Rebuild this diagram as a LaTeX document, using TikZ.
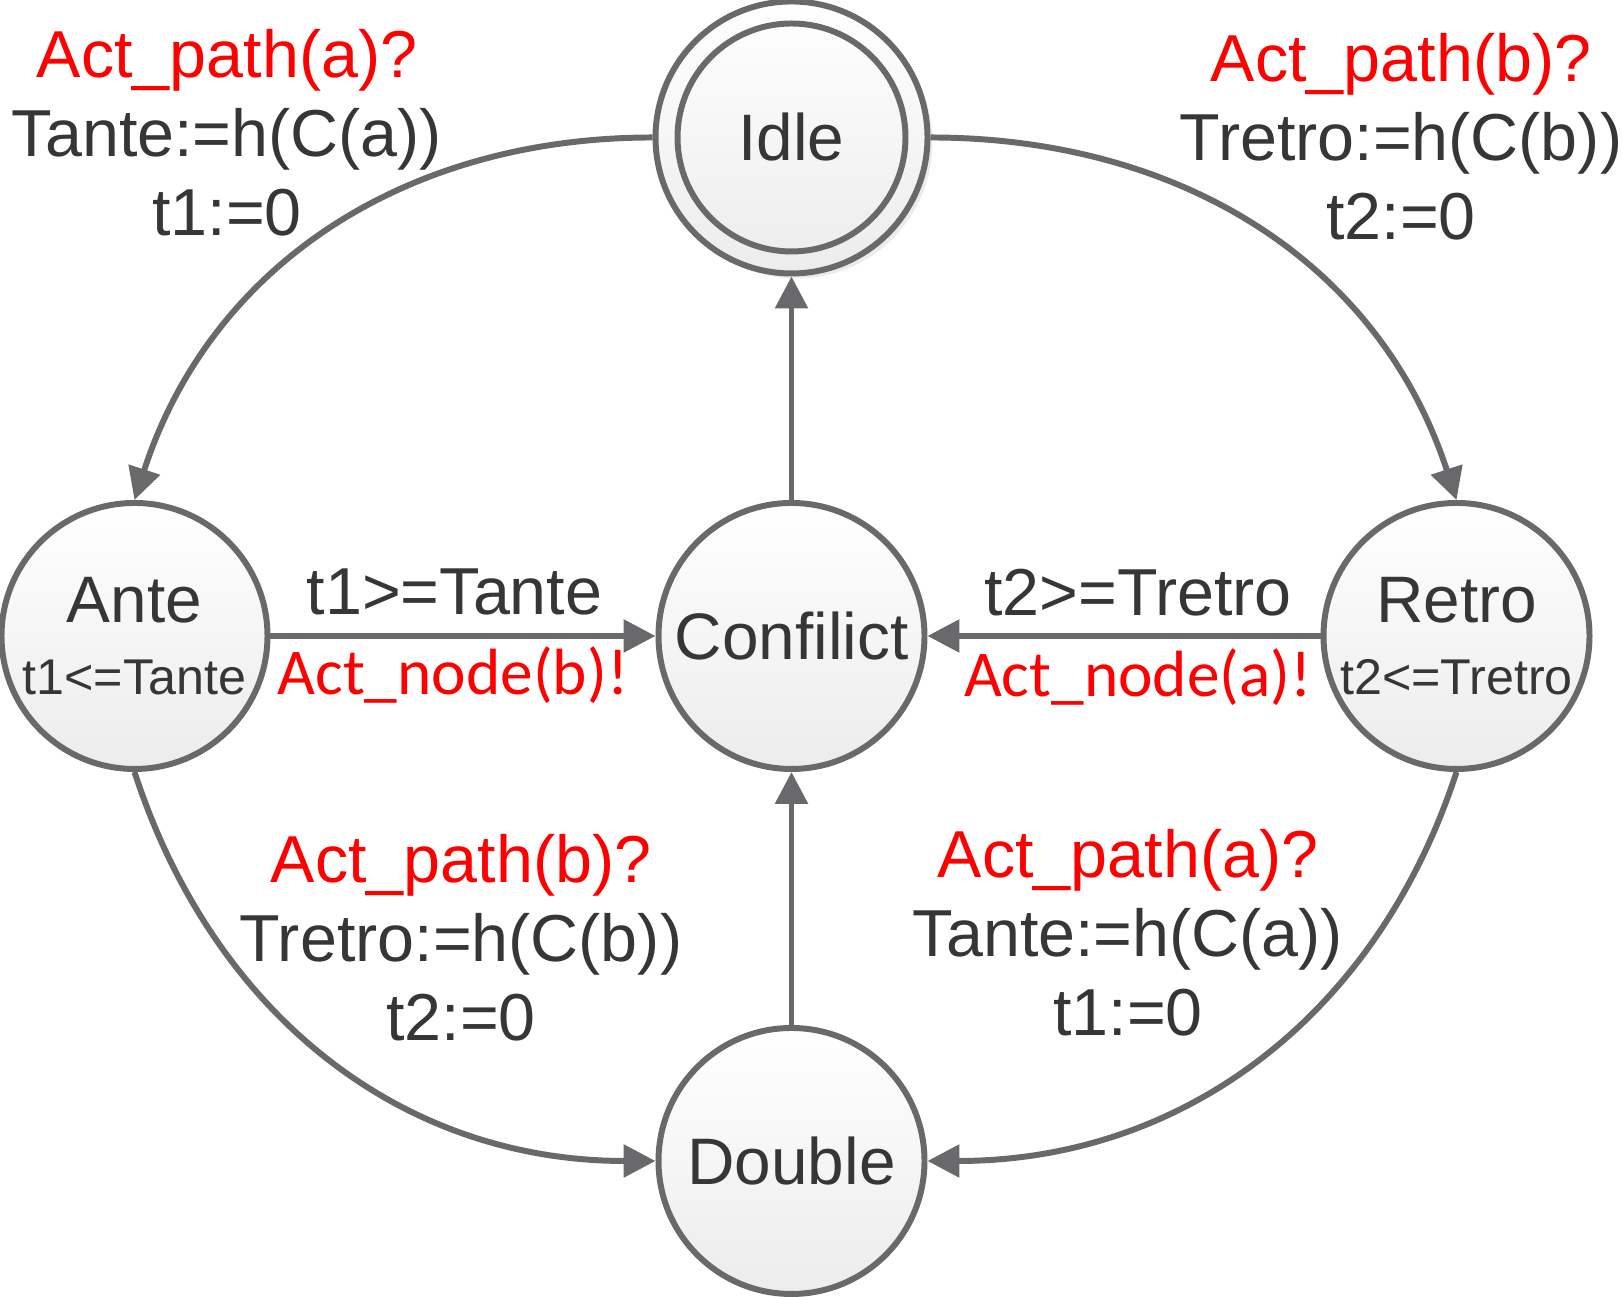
\documentclass[tikz,border=0pt]{standalone}
\usepackage{fontspec}
\setmainfont{Liberation Sans}
\newfontfamily\calfont{Carlito}
\usetikzlibrary{arrows.meta,shadows}
\definecolor{linegray}{RGB}{105,105,107}
\definecolor{textgray}{RGB}{54,54,54}
\definecolor{fillgray}{RGB}{236,236,236}

\begin{document}
\begin{tikzpicture}[every node/.style={text=textgray},
  state/.style={circle,draw=linegray,line width=1.7pt,minimum size=2.66cm,inner sep=0pt,
    top color=white,bottom color=fillgray,align=center,font=\fontsize{18.7}{20.5}\selectfont},
  trans/.style={draw=linegray,line width=1.7pt,-{Triangle[length=3.2mm,width=3.2mm]}},
  guard/.style={align=center,font=\fontsize{18.9}{22.5}\selectfont},
  sync/.style={anchor=base,text=red,font=\calfont\fontsize{18.6}{22}\selectfont}]
\useasboundingbox (0,0) rectangle (16.22,12.97);
% states
\node[state,minimum size=2.72cm,drop shadow={shadow xshift=0.5mm,shadow yshift=-0.5mm,fill=gray!25,opacity=0.6}] (idle) at (7.915,11.595) {Idle};
\draw[linegray,line width=1.7pt] (idle.center) circle (1.14);
\node[state] (ante) at (1.345,6.61) {Ante\\{\fontsize{14.3}{16}\selectfont t1<=Tante}};
\node[state] (conf) at (7.915,6.61) {Confilict};
\node[state] (retro) at (14.565,6.61) {Retro\\{\fontsize{14.3}{16}\selectfont t2<=Tretro}};
\node[state] (double) at (7.915,1.36) {Double};
% transitions
\draw[trans] (idle.west) to[out=180,in=72] (ante.north);
\draw[trans] (idle.east) to[out=0,in=108] (retro.north);
\draw[trans] (ante.south) to[out=-72,in=180] (double.west);
\draw[trans] (retro.south) to[out=-108,in=0] (double.east);
\draw[trans] (ante) -- (conf);
\draw[trans] (retro) -- (conf);
\draw[trans] (conf) -- (idle);
\draw[trans] (double) -- (conf);
% labels
\node[guard] (gia) at (2.27,11.64) {\textcolor{red}{Act\_path(a)?}\\Tante:=h(C(a))\\t1:=0};
\node[guard] (gib) at (14.01,11.605) {\textcolor{red}{Act\_path(b)?}\\Tretro:=h(C(b))\\t2:=0};
\node[guard] (gad) at (4.61,3.595) {\textcolor{red}{Act\_path(b)?}\\Tretro:=h(C(b))\\t2:=0};
\node[guard] (grd) at (11.28,3.64) {\textcolor{red}{Act\_path(a)?}\\Tante:=h(C(a))\\t1:=0};
\node[anchor=base,font=\fontsize{18.9}{22.5}\selectfont] (gac) at (4.545,6.82) {t1>=Tante};
\node[anchor=base,font=\fontsize{18.9}{22.5}\selectfont] (grc) at (11.38,6.81) {t2>=Tretro};
\node[sync] (sac) at (4.53,6.02) {Act\_node(b)!};
\node[sync] (src) at (11.38,6.00) {Act\_node(a)!};
\end{tikzpicture}
\end{document}
